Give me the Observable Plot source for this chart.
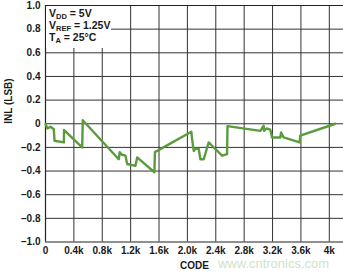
<!DOCTYPE html>
<html>
<head>
<meta charset="utf-8">
<script src="https://cdn.jsdelivr.net/npm/d3@7"></script>
<script src="https://cdn.jsdelivr.net/npm/@observablehq/plot@0.6"></script>
<style>
  html, body { margin: 0; padding: 0; background: #fff; }
  #wrap { position: relative; width: 343px; height: 277px; overflow: hidden; }
  #note { position: absolute; left: 46px; top: 6px; width: 65px; height: 42px; background: #fff; white-space: nowrap;
          font: bold 10.5px "Liberation Sans", Arial, sans-serif; color: #1a1a1a; padding: 1px 0 0 3px; box-sizing: border-box; }
  #note div { height: 12px; line-height: 12px; }
  #note sub { font-size: 7.5px; vertical-align: -1.5px; line-height: 0; }
</style>
</head>
<body>
<div id="wrap"><div id="note"><div>V<sub>DD</sub> = 5V</div><div>V<sub>REF</sub> = 1.25V</div><div>T<sub>A</sub> = 25°C</div></div></div>
<script>
const codes = [0, 28, 70, 117, 127, 258, 262, 517, 525, 1032, 1046, 1070, 1127, 1151, 1268, 1292, 1535, 1542,
  2056, 2066, 2089, 2113, 2159, 2183, 2230, 2300, 2348, 2489, 2559, 2565, 3028, 3075, 3080, 3113, 3169, 3193,
  3310, 3320, 3356, 3582, 3590, 4085];
const inl = [-0.003, -0.04, -0.025, -0.047, -0.144, -0.158, -0.053, -0.20, 0.03, -0.30, -0.24, -0.26, -0.27, -0.34,
  -0.356, -0.285, -0.41, -0.24, -0.068, -0.13, -0.23, -0.21, -0.214, -0.30, -0.30, -0.158, -0.186, -0.27, -0.256,
  -0.02, -0.06, -0.017, -0.06, -0.04, -0.05, -0.116, -0.116, -0.074, -0.116, -0.158, -0.10, 0.0];
const xTicks = [0, 400, 800, 1200, 1600, 2000, 2400, 2800, 3200, 3600, 4000];
const xTickLabels = ["0", "0.4k", "0.8k", "1.2k", "1.6k", "2.0k", "2.4k", "2.8k", "3.2k", "3.6k", "4k"];
const yTicks = [-1, -0.8, -0.6, -0.4, -0.2, 0, 0.2, 0.4, 0.6, 0.8, 1];
const yTickLabels = ["\u20131.0", "\u20130.8", "\u20130.6", "\u20130.4", "\u20130.2", "0", "0.2", "0.4", "0.6", "0.8", "1.0"];

const data = codes.map((c, i) => ({code: c, inl: inl[i]}));

const chart = Plot.plot({
  width: 343,
  height: 277,
  marginLeft: 45,
  marginRight: 0,
  marginTop: 5,
  marginBottom: 35.5,
  style: {fontFamily: "'Liberation Sans', Arial, sans-serif", fontWeight: "bold", fontSize: "10px", color: "#1a1a1a", background: "#fff"},
  x: {domain: [0, 4200]},
  y: {domain: [-1, 1]},
  marks: [
    Plot.text(["www.cntronics.com"], {frameAnchor: "bottom", dx: 79, dy: 26, fontSize: 13, fontWeight: "normal", fill: "#cde4c4"}),
    Plot.gridX(xTicks.slice(1), {stroke: "#333", strokeOpacity: 1, strokeWidth: 1}),
    Plot.gridY(yTicks.slice(1, -1), {stroke: "#333", strokeOpacity: 1, strokeWidth: 1}),
    Plot.ruleX([0], {stroke: "#222", strokeWidth: 1.2}),
    Plot.ruleY([-1, 1], {stroke: "#222", strokeWidth: 1.2}),
    Plot.axisX(xTicks, {tickSize: 0, tickPadding: 5, label: null, tickFormat: d => xTickLabels[xTicks.indexOf(d)]}),
    Plot.axisY(yTicks, {tickSize: 0, tickPadding: 5, label: null, tickFormat: d => yTickLabels[yTicks.indexOf(d)]}),
    Plot.text(["INL (LSB)"], {frameAnchor: "left", dx: -37, rotate: -90}),
    Plot.text(["CODE"], {frameAnchor: "bottom", dy: 27}),
    Plot.line(data, {x: "code", y: "inl", stroke: "#5b9b3c", strokeWidth: 2.4, strokeLinejoin: "round"})
  ]
});
document.getElementById("wrap").insertBefore(chart, document.getElementById("note"));
</script>
</body>
</html>
